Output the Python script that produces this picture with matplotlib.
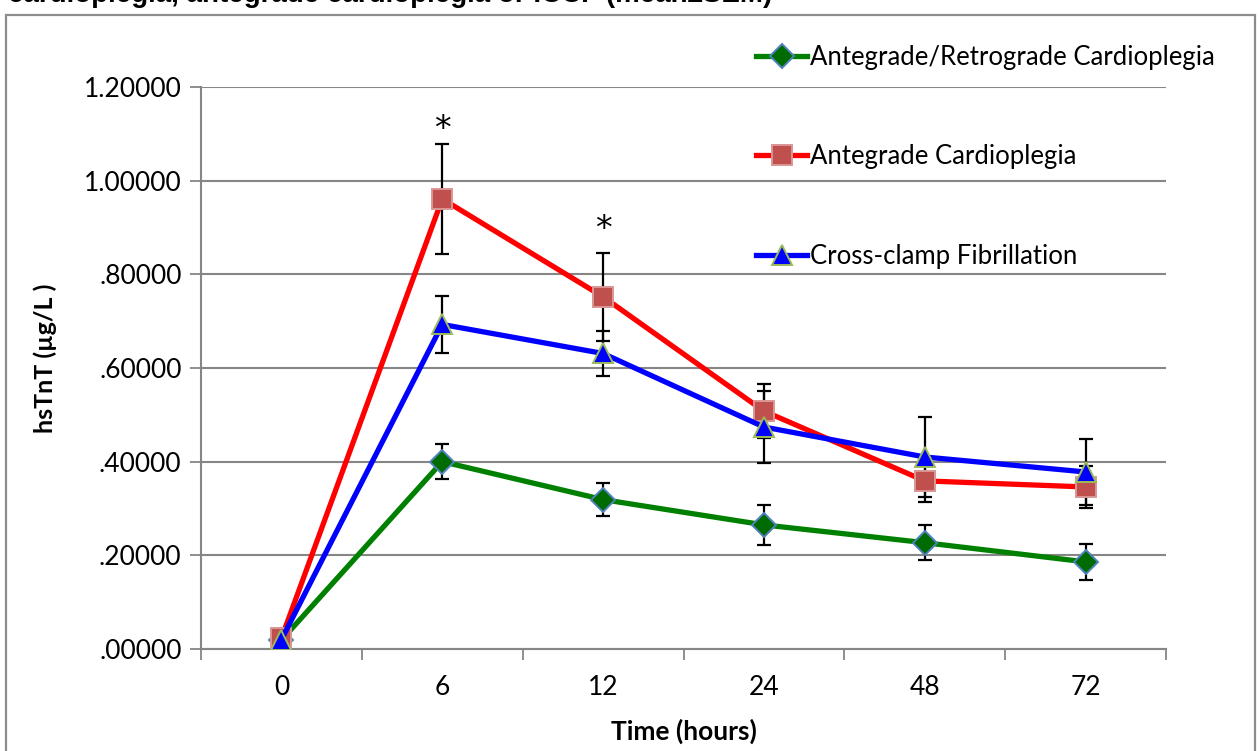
import matplotlib
matplotlib.use("Agg")
import matplotlib.pyplot as plt
from matplotlib.patches import Rectangle
from matplotlib.ticker import FixedLocator, FuncFormatter

# Sampling times (hours) and hsTnT means ± SEM per group
time_labels = ["0", "6", "12", "24", "48", "72"]

ar_mean = [0.019, 0.400, 0.319, 0.265, 0.227, 0.186]
ar_sem = [0.004, 0.038, 0.036, 0.042, 0.037, 0.038]

ac_mean = [0.023, 0.961, 0.752, 0.508, 0.359, 0.346]
ac_sem = [0.004, 0.117, 0.094, 0.058, 0.045, 0.045]

ccf_mean = [0.020, 0.693, 0.631, 0.474, 0.410, 0.378]
ccf_sem = [0.004, 0.060, 0.048, 0.076, 0.085, 0.070]

series_names = ["Antegrade/Retrograde Cardioplegia", "Antegrade Cardioplegia",
                "Cross-clamp Fibrillation"]

# Significance markers: (time index, y position)
star_idx = [1, 2]
star_y = [1.11, 0.895]

FONT = "Lato"
GRID = "#868686"

fig = plt.figure(figsize=(12.59, 7.51), dpi=100)
fig.patch.set_facecolor("white")

# Outer chart-area border
fig.patches.append(Rectangle((6 / 1259, -0.05), 1249 / 1259, 1.05 - 15 / 751,
                             transform=fig.transFigure, fill=False,
                             edgecolor="#8c8c8c", linewidth=1.6))

# Caption line running off the top edge
fig.text(8 / 1259, 1 - 2 / 751,
         "cardioplegia, antegrade cardioplegia or ICCF (mean\u00b1SEM)",
         fontsize=20, fontweight="bold", family="Liberation Sans",
         ha="left", va="baseline")

ax = fig.add_axes([201 / 1259, 1 - 649 / 751, 965 / 1259, 562 / 751])
x = list(range(len(time_labels)))

styles = [
    dict(color="#008000", marker="D", mfc="#006b00", mec="#4f81bd", ms=12),
    dict(color="#ff0000", marker="s", mfc="#c0504d", mec="#d99694", ms=14),
    dict(color="#0000ff", marker="^", mfc="#0000ff", mec="#9bbb59", ms=14),
]
means = [ar_mean, ac_mean, ccf_mean]
sems = [ar_sem, ac_sem, ccf_sem]

handles = []
for i, (m, s, st) in enumerate(zip(means, sems, styles)):
    ax.errorbar(x, m, yerr=s, fmt="none", ecolor="black", elinewidth=1.6,
                capsize=5, capthick=1.6, zorder=3 + i)
    h, = ax.plot(x, m, color=st["color"], lw=3.8, marker=st["marker"],
                 markerfacecolor=st["mfc"], markeredgecolor=st["mec"],
                 markeredgewidth=1.4, markersize=st["ms"], zorder=5 + i,
                 label=series_names[i])
    handles.append(h)

for xi, yi in zip(star_idx, star_y):
    ax.text(xi, yi, "*", ha="center", va="center", fontsize=24,
            family="DejaVu Sans", color="black")

ax.set_xlim(-0.5, len(time_labels) - 0.5)
ax.set_ylim(0, 1.2)

ax.set_yticks([0, 0.2, 0.4, 0.6, 0.8, 1.0, 1.2])
ax.yaxis.set_major_formatter(FuncFormatter(
    lambda v, p: ("%.5f" % v).lstrip("0") if v < 1 else "%.5f" % v))
ax.set_xticks(x)
ax.set_xticklabels(time_labels)
ax.xaxis.set_minor_locator(FixedLocator([i - 0.5 for i in range(len(time_labels) + 1)]))

ax.tick_params(axis="x", which="major", length=0, pad=19, labelsize=19)
ax.tick_params(axis="x", which="minor", length=8, width=1.3, color=GRID)
ax.tick_params(axis="y", which="major", length=8, width=1.3, color=GRID,
               pad=6, labelsize=19)
for lbl in ax.get_xticklabels() + ax.get_yticklabels():
    lbl.set_family(FONT)

ax.grid(axis="y", color=GRID, linewidth=1.5)
ax.set_axisbelow(True)
for side in ["top", "right"]:
    ax.spines[side].set_visible(False)
for side in ["left", "bottom"]:
    ax.spines[side].set_color(GRID)
    ax.spines[side].set_linewidth(1.5)

ax.set_xlabel("Time (hours)", fontsize=19, fontweight="bold", family=FONT)
ax.xaxis.set_label_coords(0.5, -(731 - 649) / 562)
ax.xaxis.label.set_va("center")
ax.set_ylabel("hsTnT (\u00b5g/L )", fontsize=18, fontweight="bold", family=FONT)
ax.yaxis.set_label_coords(-(201 - 45) / 965, (649 - 358) / 562)
ax.yaxis.label.set_va("center")

leg = ax.legend(handles=handles, loc="upper left",
                bbox_to_anchor=(743 / 1259, 1 - 32 / 751),
                bbox_transform=fig.transFigure, frameon=False,
                prop={"family": FONT, "size": 18.5}, handlelength=2.0,
                handletextpad=0.12, labelspacing=2.9, borderpad=0)

fig.savefig("out.png", dpi=100, facecolor="white")
